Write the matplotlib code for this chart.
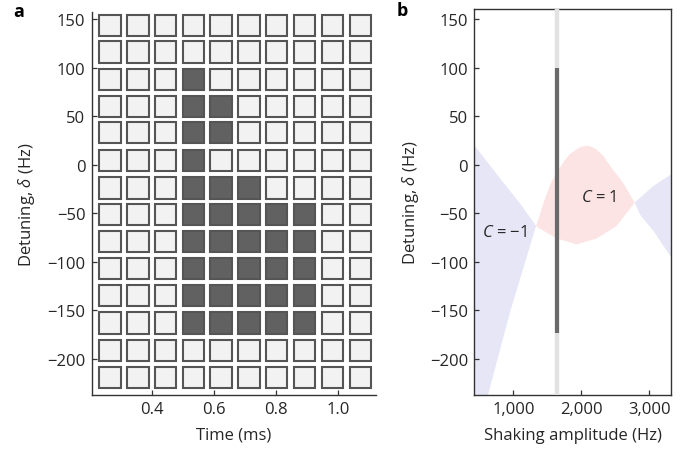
import matplotlib
matplotlib.use("Agg")
import matplotlib.pyplot as plt
from matplotlib.patches import Rectangle
import numpy as np

plt.rcParams['font.family'] = ['Open Sans', 'DejaVu Sans']
plt.rcParams['mathtext.fontset'] = 'custom'
plt.rcParams['mathtext.it'] = 'Open Sans:italic'
plt.rcParams['mathtext.rm'] = 'Open Sans'

# ---------------- data: panel a ----------------
times = [0.265, 0.355, 0.444, 0.534, 0.623, 0.713, 0.802, 0.892, 0.981, 1.071]
detunings = [143, 116, 88, 60, 33, 4, -24, -51, -79, -107, -135, -163, -191, -219]
topological = [
    [0, 0, 0, 0, 0, 0, 0, 0, 0, 0],
    [0, 0, 0, 0, 0, 0, 0, 0, 0, 0],
    [0, 0, 0, 1, 0, 0, 0, 0, 0, 0],
    [0, 0, 0, 1, 1, 0, 0, 0, 0, 0],
    [0, 0, 0, 1, 1, 0, 0, 0, 0, 0],
    [0, 0, 0, 1, 0, 0, 0, 0, 0, 0],
    [0, 0, 0, 1, 1, 1, 0, 0, 0, 0],
    [0, 0, 0, 1, 1, 1, 1, 1, 0, 0],
    [0, 0, 0, 1, 1, 1, 1, 1, 0, 0],
    [0, 0, 0, 1, 1, 1, 1, 1, 0, 0],
    [0, 0, 0, 1, 1, 1, 1, 1, 0, 0],
    [0, 0, 0, 1, 1, 1, 1, 1, 0, 0],
    [0, 0, 0, 0, 0, 0, 0, 0, 0, 0],
    [0, 0, 0, 0, 0, 0, 0, 0, 0, 0],
]
a_xticks = [0.4, 0.6, 0.8, 1.0]
a_yticks = [150, 100, 50, 0, -50, -100, -150, -200]

# ---------------- data: panel b ----------------
# boundary curve A (upper edge of left C=-1 region, lower edge of C=1 region)
curveA_x = [426, 804, 1100, 1335, 1393, 1638, 1932, 2226, 2521, 2785, 3059, 3320]
curveA_y = [20, -14, -40, -63, -66, -76, -82, -76, -63, -39, -22, -10]
# boundary curve B (lower edge of left C=-1 region, upper edge of C=1 region)
curveB_x = [426, 632, 951, 1335, 1393, 1460, 1540, 1613, 1687, 1760, 1834, 1932, 2000,
            2079, 2150, 2226, 2324, 2422, 2618, 2785, 2870, 3059, 3320]
curveB_y = [-287, -236, -152, -63, -51, -36, -21, -11, -3, 5, 11, 16, 18.5,
            19.5, 18.5, 15.5, 9, -1, -19, -39, -52, -68, -95]
crossings_x = [1335, 2785]
cut_amplitude = 1647
cut_range = [-173, 100]
b_xticks = [1000, 2000, 3000]
b_xticklabels = ['1,000', '2,000', '3,000']
b_yticks = [150, 100, 50, 0, -50, -100, -150, -200]

# ---------------- figure ----------------
W, H = 697, 452
fig = plt.figure(figsize=(W / 100, H / 100), dpi=100)
txt = '#262626'
spine_c = '#333333'
fs = 12

def px_axes(l, r, t, b):
    return fig.add_axes([l / W, 1 - b / H, (r - l) / W, (b - t) / H])

# panel a
axa = px_axes(91.7, 376, 13.3, 396)
axa.set_xlim(0.2065, 1.1216)
axa.set_ylim(-237.1, 156.9)
cw, ch = 0.0687, 21.9
for i, d in enumerate(detunings):
    for j, t in enumerate(times):
        fc = '#616161' if topological[i][j] else '#f2f2f2'
        axa.add_patch(Rectangle((t - cw / 2, d - ch / 2), cw, ch,
                                facecolor=fc, edgecolor='#555555', lw=1.5))
for s in ['top', 'right']:
    axa.spines[s].set_visible(False)
axa.set_xticks(a_xticks)
axa.set_xticklabels(['0.4', '0.6', '0.8', '1.0'])
axa.set_yticks(a_yticks)
axa.set_xlabel('Time (ms)', fontsize=fs, color=txt, labelpad=7)
axa.set_ylabel(r'Detuning, $\mathit{\delta}$ (Hz)', fontsize=fs, color=txt, labelpad=7)

# panel b
axb = px_axes(474.3, 671, 10, 396)
axb.set_xlim(426, 3320)
axb.set_ylim(-237.1, 160.3)
blue = '#e6e6f7'
pink = '#fde4e4'
ax_ = np.array(curveA_x); ay_ = np.array(curveA_y)
bx_ = np.array(curveB_x); by_ = np.array(curveB_y)
c1, c2 = crossings_x
# left C=-1
mA = ax_ <= c1; mB = bx_ <= c1
axb.fill(np.concatenate([ax_[mA], bx_[mB][::-1]]),
         np.concatenate([ay_[mA], by_[mB][::-1]]), color=blue, lw=0)
# C=1
mA = (ax_ >= c1) & (ax_ <= c2); mB = (bx_ >= c1) & (bx_ <= c2)
axb.fill(np.concatenate([bx_[mB], ax_[mA][::-1]]),
         np.concatenate([by_[mB], ay_[mA][::-1]]), color=pink, lw=0)
# right C=-1
mA = ax_ >= c2; mB = bx_ >= c2
axb.fill(np.concatenate([ax_[mA], bx_[mB][::-1]]),
         np.concatenate([ay_[mA], by_[mB][::-1]]), color=blue, lw=0)

axb.axvline(cut_amplitude, color='#e2e2e2', lw=3.2, zorder=3)
axb.plot([cut_amplitude, cut_amplitude], cut_range, color='#6a6a6a', lw=3.0,
         solid_capstyle='butt', zorder=4)
axb.text(871, -69, r'$\mathit{C}$ = −1', fontsize=fs, color=txt, ha='center', va='center')
axb.text(2253, -33, r'$\mathit{C}$ = 1', fontsize=fs, color=txt, ha='center', va='center')
axb.set_xticks(b_xticks)
axb.set_xticklabels(b_xticklabels)
axb.set_yticks(b_yticks)
axb.set_xlabel('Shaking amplitude (Hz)', fontsize=fs, color=txt, labelpad=7)
axb.set_ylabel(r'Detuning, $\mathit{\delta}$ (Hz)', fontsize=fs, color=txt, labelpad=6)

for ax in (axa, axb):
    for s in ax.spines.values():
        s.set_color(spine_c)
        s.set_linewidth(1.0)
    ax.tick_params(direction='in', length=3.5, width=0.9, color=spine_c,
                   labelsize=fs, labelcolor=txt, pad=4.5)

fig.text(13 / W, 1 - 12 / H, 'a', fontsize=13, fontweight='bold', ha='left', va='center')
fig.text(397 / W, 1 - 11 / H, 'b', fontsize=13, fontweight='bold', ha='left', va='center')

fig.savefig('out.png', dpi=100)
